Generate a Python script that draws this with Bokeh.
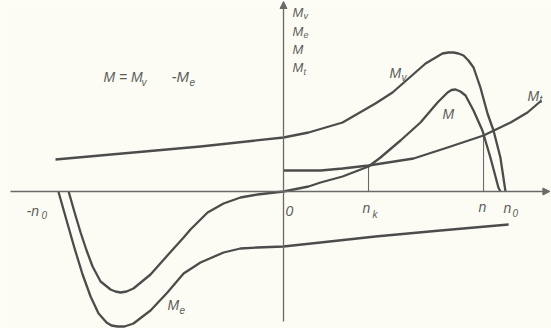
from bokeh.plotting import figure
from bokeh.models import Range1d, Label, Arrow, NormalHead
from bokeh.embed import file_html
from bokeh.resources import INLINE

# speed n relative to n0, torque in arbitrary units
mv_n = [-1.027, -0.676, -0.374, 0.0, 0.113, 0.266, 0.414, 0.491, 0.563, 0.640,
        0.716, 0.743, 0.766, 0.788, 0.811, 0.833, 0.856, 0.887, 0.919, 0.946,
        0.977, 1.0]
mv_m = [0.32, 0.39, 0.45, 0.54, 0.59, 0.69, 0.88, 0.99, 1.13, 1.28,
        1.38, 1.39, 1.39, 1.38, 1.36, 1.31, 1.24, 1.04, 0.78, 0.61,
        0.34, 0.0]

m_n = [-0.968, -0.941, -0.914, -0.887, -0.860, -0.824, -0.779, -0.757, -0.734,
       -0.707, -0.676, -0.599, -0.523, -0.450, -0.419, -0.342, -0.270, -0.194,
       -0.117, 0.0, 0.113, 0.167, 0.266, 0.383, 0.437, 0.527, 0.617, 0.694,
       0.739, 0.757, 0.775, 0.797, 0.820, 0.856, 0.896, 0.932, 0.968, 0.977]
m_m = [0.0, -0.21, -0.41, -0.59, -0.75, -0.90, -0.98, -1.00, -1.01,
       -1.00, -0.97, -0.83, -0.64, -0.46, -0.38, -0.21, -0.12, -0.06,
       -0.03, 0.0, 0.05, 0.09, 0.15, 0.25, 0.34, 0.51, 0.69, 0.89,
       0.99, 1.015, 1.02, 1.00, 0.96, 0.81, 0.61, 0.34, 0.04, 0.0]

me_n = [-1.014, -0.977, -0.941, -0.905, -0.869, -0.833, -0.797, -0.775, -0.748,
        -0.716, -0.676, -0.599, -0.523, -0.450, -0.374, -0.270, -0.194, -0.117,
        0.0, 0.167, 0.414, 0.707, 1.014]
me_m = [0.0, -0.29, -0.57, -0.83, -1.05, -1.22, -1.31, -1.34, -1.35,
        -1.35, -1.32, -1.19, -1.01, -0.82, -0.71, -0.61, -0.57, -0.56,
        -0.55, -0.51, -0.45, -0.39, -0.33]

mt_n = [0.0, 0.167, 0.266, 0.383, 0.586, 0.739, 0.901, 1.023, 1.099, 1.162]
mt_m = [0.21, 0.21, 0.23, 0.26, 0.33, 0.44, 0.56, 0.69, 0.79, 0.91]

# operating points: n_k and n, with load torque there
op_n = [0.383, 0.901]
op_m = [0.26, 0.56]

BG = "#fcfcf4"
INK = "#4c4c4c"
AX = "#6a6a6a"
TXT = "#5c5c5c"

p = figure(width=551, height=328, output_backend="svg", toolbar_location=None,
           x_range=Range1d(-1.2748, 1.2072), y_range=Range1d(-1.37, 1.91),
           min_border=0, outline_line_color=None,
           background_fill_color=BG, border_fill_color=BG)
p.axis.visible = False
p.grid.visible = False

# axes with arrows
p.add_layout(Arrow(end=NormalHead(size=7, fill_color=AX, line_color=AX),
                   x_start=-1.23, y_start=0, x_end=1.20, y_end=0,
                   line_color=AX, line_width=1.3))
p.add_layout(Arrow(end=NormalHead(size=7, fill_color=AX, line_color=AX),
                   x_start=0, y_start=-1.30, x_end=0, y_end=1.90,
                   line_color=AX, line_width=1.3))

# ordinates at n_k and n
p.segment(x0=op_n, y0=[0, 0], x1=op_n, y1=op_m, line_color=AX, line_width=1.1)

for xs, ys in [(mv_n, mv_m), (m_n, m_m), (me_n, me_m), (mt_n, mt_m)]:
    p.line(xs, ys, line_color=INK, line_width=2.3, line_join="round")


def lab(px, py, text, size=14):
    p.add_layout(Label(x=(px - 283) / 222, y=(191 - py) / 100, text=text,
                       text_font="Liberation Sans", text_font_style="italic",
                       text_font_size=f"{size}px", text_color=TXT,
                       text_baseline="alphabetic", text_align="left"))


# formula
lab(103, 76, "M = M", 14)
lab(141, 82, "v", 10)
lab(171, 76, "-M", 15)
lab(189, 81, "e", 10)

# axis title stack
lab(292, 12, "M", 13)
lab(303, 15, "v", 9)
lab(292, 31, "M", 13)
lab(303, 34, "e", 9)
lab(292, 49, "M", 13)
lab(292, 67, "M", 13)
lab(303, 71, "t", 9)

# curve labels
lab(389, 72, "M")
lab(401, 77, "v", 10)
lab(442, 113, "M")
lab(527, 95, "M")
lab(539, 99, "t", 10)
lab(167, 304, "M")
lab(179, 309, "e", 10)

# x labels
lab(26, 210, "-n")
lab(41, 214, "0", 10)
lab(285, 210, "0")
lab(362, 207, "n")
lab(372, 214, "k", 10)
lab(478, 206, "n")
lab(503, 207, "n")
lab(512, 212, "0", 10)

open("out.html", "w").write(file_html(p, INLINE))
